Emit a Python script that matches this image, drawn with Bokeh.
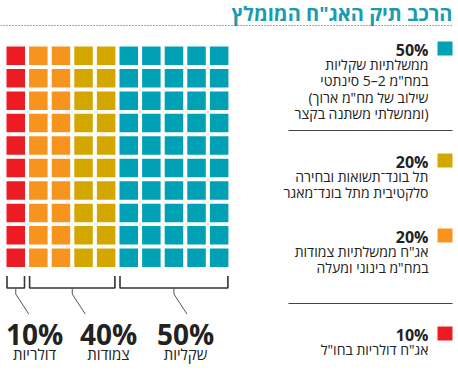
from bokeh.plotting import figure
from bokeh.models import Range1d
from bokeh.core.properties import value
from bokeh.embed import file_html
from bokeh.resources import INLINE

# ---------------- data ----------------
title = 'הרכב תיק האג"ח המומלץ'

# waffle columns, left to right (each square = 1%)
cat_names = ["דולרי", "צמודות", "תל בונד", "שקליות"]
cat_pct = [10, 20, 20, 50]
cat_colors = ["#ED1C24", "#F7941D", "#D4A700", "#00A0B5"]

# groups under the brackets
group_pct = [10, 40, 50]
group_names = ["דולריות", "צמודות", "שקליות"]
group_cats = [[0], [1, 2], [3]]

# legend (top to bottom)
legend_cat = [3, 2, 1, 0]
legend_lines = [
    ["ממשלתיות שקליות", 'במח"מ 2–5 סינתטי', '(שילוב של מח"מ ארוך', "וממשלתי משתנה בקצר)"],
    ["תל בונד־תשואות ובחירה", "סלקטיבית מתל בונד־מאגר"],
    ['אג"ח ממשלתיות צמודות', 'במח"מ בינוני ומעלה'],
    ['אג"ח דולריות בחו"ל'],
]

# ---------------- layout constants ----------------
W, H = 458, 377
ROWS = 10
SQ = 18.5
COL_STEP = 22.6
ROW_STEP = 22.45
X0 = 6.0
Y0 = 46.0
FONT = "Open Sans"
group_label_x = [34, 108, 185]

p = figure(width=W, height=H, output_backend="svg", toolbar_location=None,
           x_range=Range1d(0, W), y_range=Range1d(H, 0),
           min_border=0, outline_line_color=None, background_fill_color="white")
p.axis.visible = False
p.grid.visible = False

# ---- waffle squares ----
xs, ys, cs = [], [], []
col_of_cat = []
col = 0
for pct, c in zip(cat_pct, cat_colors):
    ncols = pct // ROWS
    col_of_cat.append(list(range(col, col + ncols)))
    for k in range(ncols):
        for r in range(ROWS):
            xs.append(X0 + SQ / 2 + (col + k) * COL_STEP)
            ys.append(Y0 + SQ / 2 + r * ROW_STEP)
            cs.append(c)
    col += ncols
p.rect(x=xs, y=ys, width=SQ, height=SQ, fill_color=cs, line_color=None)

# ---- brackets, stems, group labels ----
y_tick_top = Y0 + (ROWS - 1) * ROW_STEP + SQ + 9
y_br = y_tick_top + 12
for gp, gn, cats, cx in zip(group_pct, group_names, group_cats, group_label_x):
    cols = [c for ci in cats for c in col_of_cat[ci]]
    left = X0 + min(cols) * COL_STEP + 0.5
    right = X0 + max(cols) * COL_STEP + SQ - 0.5
    p.line([left, left, right, right], [y_tick_top, y_br, y_br, y_tick_top],
           line_color="#333333", line_width=1.6)
    mid = (left + right) / 2
    p.line([mid, mid, mid + 13], [y_br, y_br + 6, y_br + 26],
           line_color="#555555", line_width=1)
    p.text(x=[cx], y=[y_br + 46], text=[f"{gp}%"], text_align="center",
           text_baseline="middle", text_font=value(FONT), text_font_style="bold",
           text_font_size="28px", text_color="#222222")
    p.text(x=[cx], y=[y_br + 66], text=[gn], text_align="center",
           text_baseline="middle", text_font=value(FONT),
           text_font_size="15px", text_color="#222222")

# ---- title ----
p.text(x=[452], y=[13], text=[title], text_align="right", text_baseline="middle",
       text_font=value(FONT), text_font_style="bold", text_font_size="20px",
       text_color="#1A9CB0")
p.line([0, 453], [25, 25], line_color="#555555", line_width=1, line_dash="1 2")

# ---- legend ----
leg_y = [48, 160, 235, 333]
sep_y = [130, 303]
LINE_H = 16.3
for ly, ci, lines in zip(leg_y, legend_cat, legend_lines):
    p.rect(x=[444.5], y=[ly], width=15, height=14, fill_color=cat_colors[ci], line_color=None)
    p.text(x=[428], y=[ly + 1], text=[f"{cat_pct[ci]}%"], text_align="right",
           text_baseline="middle", text_font=value(FONT), text_font_style="bold",
           text_font_size="16px", text_color="#222222")
    for i, t in enumerate(lines):
        p.text(x=[428], y=[ly + 16 + i * LINE_H], text=[t], text_align="right",
               text_baseline="middle", text_font=value(FONT),
               text_font_size="14px", text_color="#222222")
for sy in sep_y:
    p.line([288, 452], [sy, sy], line_color="#444444", line_width=1.2)

open("out.html", "w").write(file_html(p, INLINE))
